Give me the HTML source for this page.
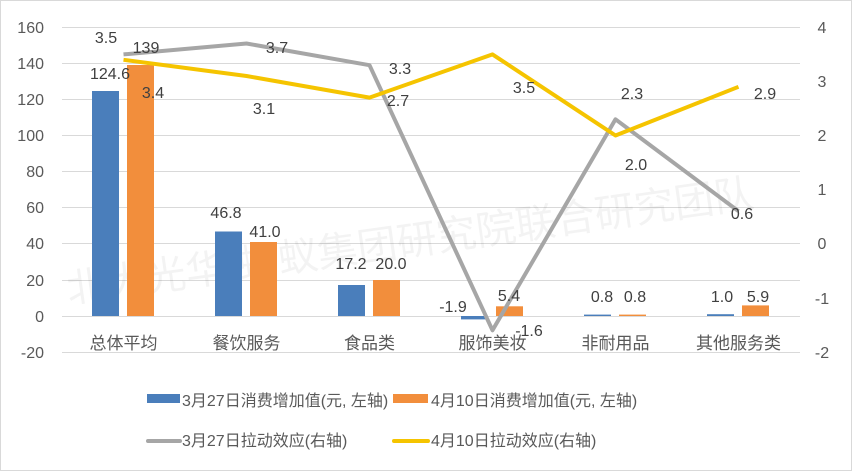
<!DOCTYPE html>
<html><head><meta charset="utf-8"><style>
body{margin:0;background:#fff}
svg{display:block;font-family:"Liberation Sans","Noto Sans CJK SC",sans-serif}
</style></head><body>
<svg width="852" height="471" viewBox="0 0 852 471">
<rect x="0.5" y="0.5" width="851" height="470" fill="#fff" stroke="#d9d9d9"/>
<g stroke="#d9d9d9" stroke-width="1">
<line x1="62" x2="800" y1="27.5" y2="27.5"/><line x1="62" x2="800" y1="63.5" y2="63.5"/>
<line x1="62" x2="800" y1="99.5" y2="99.5"/><line x1="62" x2="800" y1="135.5" y2="135.5"/>
<line x1="62" x2="800" y1="171.5" y2="171.5"/><line x1="62" x2="800" y1="207.5" y2="207.5"/>
<line x1="62" x2="800" y1="243.5" y2="243.5"/><line x1="62" x2="800" y1="280.5" y2="280.5"/>
<line x1="62" x2="800" y1="316.5" y2="316.5"/><line x1="62" x2="800" y1="352.5" y2="352.5"/>
</g>
<text x="410" y="255" font-size="40" fill="#000" opacity="0.045" text-anchor="middle" transform="rotate(-8 410 240)">北大光华-蚂蚁集团研究院联合研究团队</text>
<g fill="#4a7ebb">
<rect x="92" y="91" width="27" height="225"/>
<rect x="215" y="231.5" width="27" height="84.5"/>
<rect x="338" y="285" width="27" height="31"/>
<rect x="461" y="316" width="27" height="3.4"/>
<rect x="584" y="314.6" width="27" height="1.4"/>
<rect x="707" y="314.2" width="27" height="1.8"/>
</g>
<g fill="#f28e3c">
<rect x="127" y="65" width="27" height="251"/>
<rect x="250" y="242" width="27" height="74"/>
<rect x="373" y="280" width="27" height="36"/>
<rect x="496" y="306.3" width="27" height="9.7"/>
<rect x="619" y="314.6" width="27" height="1.4"/>
<rect x="742" y="305.4" width="27" height="10.6"/>
</g>
<polyline fill="none" stroke="#a6a6a6" stroke-width="4" stroke-linejoin="round" points="123.5,54.4 246.5,43.5 369.5,65.2 492.5,330.3 615.5,119.3 738.5,211.2"/>
<polyline fill="none" stroke="#f5c400" stroke-width="4" stroke-linejoin="round" points="123.5,59.8 246.5,76 369.5,97.6 492.5,54.4 615.5,135.5 738.5,86.8"/>
<g font-size="16" fill="#404040" text-anchor="middle">
<text x="106" y="43">3.5</text><text x="277" y="53">3.7</text><text x="400" y="74">3.3</text>
<text x="529" y="336">-1.6</text><text x="632" y="99">2.3</text><text x="742" y="219">0.6</text>
<text x="153" y="98">3.4</text><text x="264" y="114">3.1</text><text x="398" y="106">2.7</text>
<text x="524" y="93">3.5</text><text x="636" y="170">2.0</text><text x="765" y="99">2.9</text>
<text x="110" y="79">124.6</text><text x="146" y="53">139</text>
<text x="226" y="218">46.8</text><text x="265" y="237">41.0</text>
<text x="351" y="269">17.2</text><text x="391" y="269">20.0</text>
<text x="453" y="312">-1.9</text><text x="509" y="301">5.4</text>
<text x="602" y="302">0.8</text><text x="635" y="302">0.8</text>
<text x="722" y="302">1.0</text><text x="758" y="302">5.9</text>
</g>
<g font-size="16" fill="#595959" text-anchor="end">
<text x="44" y="33">160</text><text x="44" y="69">140</text><text x="44" y="105">120</text>
<text x="44" y="141">100</text><text x="44" y="177">80</text><text x="44" y="213">60</text>
<text x="44" y="249">40</text><text x="44" y="286">20</text><text x="44" y="322">0</text><text x="44" y="358">-20</text>
</g>
<g font-size="16" fill="#595959" text-anchor="middle">
<text x="822" y="33">4</text><text x="822" y="87">3</text><text x="822" y="141">2</text>
<text x="822" y="195">1</text><text x="822" y="249">0</text><text x="822" y="304">-1</text><text x="822" y="358">-2</text>
</g>
<g font-size="17" fill="#595959" text-anchor="middle">
<text x="123.5" y="349">总体平均</text><text x="246.5" y="349">餐饮服务</text><text x="369.5" y="349">食品类</text>
<text x="492.5" y="349">服饰美妆</text><text x="615.5" y="349">非耐用品</text><text x="738.5" y="349">其他服务类</text>
</g>
<rect x="147" y="394" width="33" height="9" fill="#4a7ebb"/>
<rect x="393" y="394" width="35" height="9" fill="#f28e3c"/>
<line x1="148" x2="180" y1="441" y2="441" stroke="#a6a6a6" stroke-width="4" stroke-linecap="round"/>
<line x1="394" x2="428" y1="441" y2="441" stroke="#f5c400" stroke-width="4" stroke-linecap="round"/>
<g font-size="16" fill="#595959">
<text x="182" y="406">3月27日消费增加值(元, 左轴)</text>
<text x="431" y="406">4月10日消费增加值(元, 左轴)</text>
<text x="182" y="446">3月27日拉动效应(右轴)</text>
<text x="431" y="446">4月10日拉动效应(右轴)</text>
</g>
</svg>
</body></html>
